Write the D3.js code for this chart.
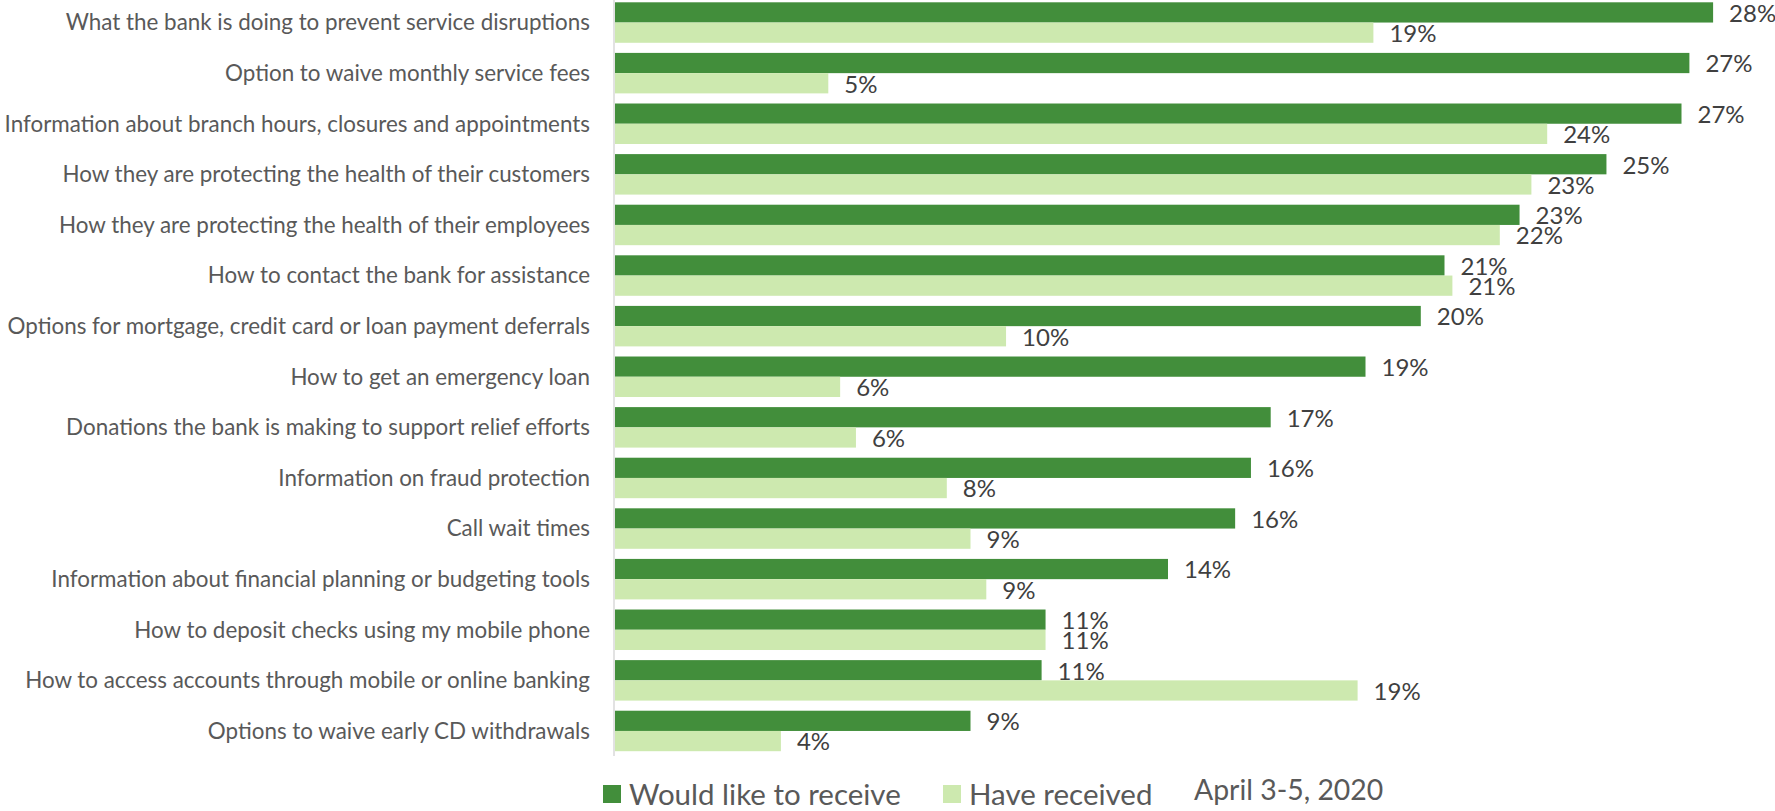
<!DOCTYPE html>
<html>
<head>
<meta charset="utf-8">
<script src="https://cdn.jsdelivr.net/npm/d3@7"></script>
<style>
  html, body { margin: 0; padding: 0; background: #fff; }
  svg { display: block; }
  text { font-family: Lato, "Open Sans", sans-serif; }
</style>
</head>
<body>
<svg id="chart" width="1775" height="811"></svg>
<script>
const categories = [
  "What the bank is doing to prevent service disruptions",
  "Option to waive monthly service fees",
  "Information about branch hours, closures and appointments",
  "How they are protecting the health of their customers",
  "How they are protecting the health of their employees",
  "How to contact the bank for assistance",
  "Options for mortgage, credit card or loan payment deferrals",
  "How to get an emergency loan",
  "Donations the bank is making to support relief efforts",
  "Information on fraud protection",
  "Call wait times",
  "Information about financial planning or budgeting tools",
  "How to deposit checks using my mobile phone",
  "How to access accounts through mobile or online banking",
  "Options to waive early CD withdrawals"
];
const wouldLike = [27.8, 27.2, 27.0, 25.1, 22.9, 21.0, 20.4, 19.0, 16.6, 16.1, 15.7, 14.0, 10.9, 10.8, 9.0];
const haveReceived = [19.2, 5.4, 23.6, 23.2, 22.4, 21.2, 9.9, 5.7, 6.1, 8.4, 9.0, 9.4, 10.9, 18.8, 4.2];
const seriesNames = ["Would like to receive", "Have received"];
const dateNote = "April 3-5, 2020";
const colors = ["#428E3B", "#CDE9AF"];

const svg = d3.select("#chart");

const x = d3.scaleLinear().domain([0, 29]).range([615, 615 + 29 * 39.5]);
const y = d3.scaleBand().domain(categories).range([2.3, 751.2]).paddingInner(0.2).paddingOuter(0);
const ySub = d3.scaleBand().domain(seriesNames).range([0, y.bandwidth()]).padding(0);
const color = d3.scaleOrdinal().domain(seriesNames).range(colors);

const rows = categories.map((c, i) => ({
  cat: c,
  vals: [
    { s: seriesNames[0], v: wouldLike[i] },
    { s: seriesNames[1], v: haveReceived[i] }
  ]
}));

// category axis line
svg.append("line")
  .attr("x1", 614).attr("x2", 614)
  .attr("y1", 0).attr("y2", 756)
  .attr("stroke", "#d9d9d9").attr("stroke-width", 1.5);

// category labels
svg.append("g").selectAll("text").data(categories).join("text")
  .attr("x", 590)
  .attr("y", d => y(d) + y.bandwidth() / 2)
  .attr("dy", "0.35em")
  .attr("text-anchor", "end")
  .attr("font-size", 22.4)
  .attr("fill", "#595959")
  .text(d => d);

const groups = svg.append("g").selectAll("g").data(rows).join("g")
  .attr("transform", d => `translate(0,${y(d.cat)})`);

groups.selectAll("rect").data(d => d.vals).join("rect")
  .attr("x", x(0))
  .attr("y", d => ySub(d.s))
  .attr("width", d => x(d.v) - x(0))
  .attr("height", ySub.bandwidth())
  .attr("fill", d => color(d.s));

const fmt = d3.format(".0f");
groups.selectAll("text").data(d => d.vals).join("text")
  .attr("x", d => x(d.v) + 16)
  .attr("y", d => ySub(d.s) + ySub.bandwidth() / 2 + 1)
  .attr("dy", "0.35em")
  .attr("font-size", 24)
  .attr("fill", "#404040")
  .text(d => fmt(d.v) + "%");

// legend
const legendX = [603, 943];
const leg = svg.append("g").selectAll("g").data(seriesNames).join("g")
  .attr("transform", (d, i) => `translate(${legendX[i]},785)`);
leg.append("rect").attr("width", 18).attr("height", 18).attr("fill", d => color(d));
leg.append("text").attr("x", 26).attr("y", 19.5).attr("font-size", 29.5).attr("fill", "#595959").text(d => d);

svg.append("text")
  .attr("x", 1194).attr("y", 800)
  .attr("font-size", 28.4).attr("fill", "#595959")
  .text(dateNote);
</script>
</body>
</html>
